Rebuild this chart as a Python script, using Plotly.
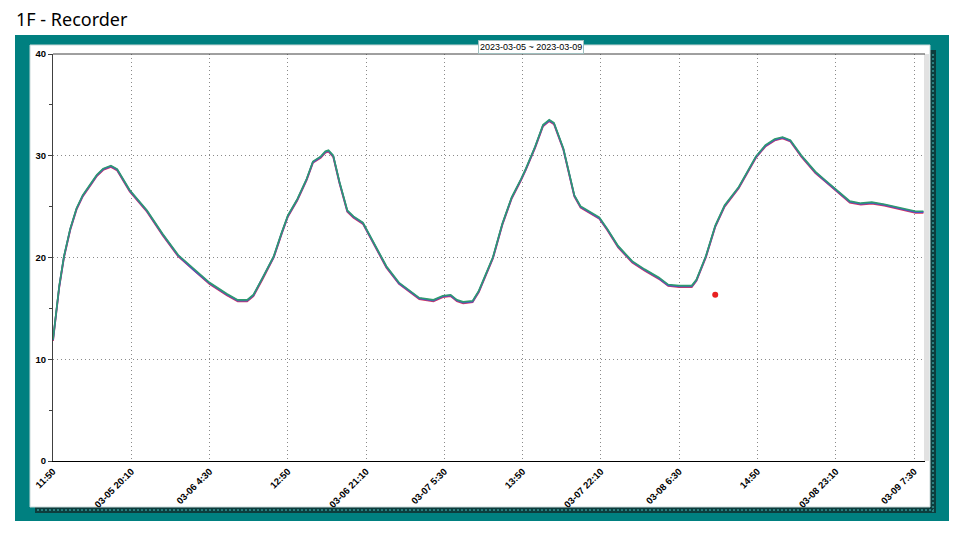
import plotly.graph_objects as go

# ---- data ----
times = [
    "2023-03-05 11:50", "2023-03-05 12:10", "2023-03-05 12:30", "2023-03-05 13:00",
    "2023-03-05 13:40", "2023-03-05 14:20", "2023-03-05 15:00", "2023-03-05 15:50",
    "2023-03-05 16:30", "2023-03-05 17:10", "2023-03-05 18:00", "2023-03-05 18:40",
    "2023-03-05 20:00", "2023-03-05 21:50", "2023-03-05 23:30", "2023-03-06 01:10",
    "2023-03-06 02:50", "2023-03-06 04:30", "2023-03-06 06:20", "2023-03-06 07:30",
    "2023-03-06 08:30", "2023-03-06 09:10", "2023-03-06 10:10", "2023-03-06 11:20",
    "2023-03-06 12:10", "2023-03-06 12:50", "2023-03-06 13:50", "2023-03-06 14:50",
    "2023-03-06 15:30", "2023-03-06 16:20", "2023-03-06 16:50", "2023-03-06 17:10",
    "2023-03-06 17:40", "2023-03-06 18:20", "2023-03-06 19:10", "2023-03-06 19:50",
    "2023-03-06 20:50", "2023-03-06 22:10", "2023-03-06 23:20", "2023-03-07 00:40",
    "2023-03-07 01:50", "2023-03-07 02:50", "2023-03-07 04:20", "2023-03-07 05:20",
    "2023-03-07 06:10", "2023-03-07 06:50", "2023-03-07 07:30", "2023-03-07 08:30",
    "2023-03-07 09:10", "2023-03-07 09:40", "2023-03-07 10:20", "2023-03-07 10:40",
    "2023-03-07 11:40", "2023-03-07 12:40", "2023-03-07 13:40", "2023-03-07 14:10",
    "2023-03-07 15:10", "2023-03-07 16:00", "2023-03-07 16:40", "2023-03-07 17:10",
    "2023-03-07 18:10", "2023-03-07 18:50", "2023-03-07 19:20", "2023-03-07 20:00",
    "2023-03-07 21:10", "2023-03-07 22:00", "2023-03-07 22:50", "2023-03-08 00:00",
    "2023-03-08 01:30", "2023-03-08 02:50", "2023-03-08 04:20", "2023-03-08 05:20",
    "2023-03-08 06:30", "2023-03-08 07:50", "2023-03-08 08:20", "2023-03-08 09:20",
    "2023-03-08 10:20", "2023-03-08 11:20", "2023-03-08 12:50", "2023-03-08 13:50",
    "2023-03-08 14:40", "2023-03-08 15:40", "2023-03-08 16:40", "2023-03-08 17:30",
    "2023-03-08 18:20", "2023-03-08 19:30", "2023-03-08 21:00", "2023-03-08 22:00",
    "2023-03-08 23:30", "2023-03-09 00:40", "2023-03-09 01:50", "2023-03-09 03:00",
    "2023-03-09 04:20", "2023-03-09 05:50", "2023-03-09 07:40", "2023-03-09 08:30",
]
temps = [
    11.8, 14.8, 17.1, 20.0,
    22.7, 24.7, 26.0, 27.1,
    28.0, 28.6, 28.9, 28.55,
    26.5, 24.5, 22.2, 20.1,
    18.7, 17.4, 16.3, 15.7,
    15.7, 16.2, 17.9, 20.0,
    22.3, 24.0, 25.6, 27.6,
    29.3, 29.8, 30.3, 30.4,
    29.9, 27.3, 24.5, 23.9,
    23.3, 21.0, 19.0, 17.4,
    16.6, 15.9, 15.7, 16.1,
    16.2, 15.7, 15.5, 15.6,
    16.6, 17.7, 19.3, 19.9,
    23.2, 25.8, 27.6, 28.6,
    30.8, 32.9, 33.4, 33.1,
    30.6, 28.0, 26.0, 24.9,
    24.3, 23.8, 22.7, 21.0,
    19.5, 18.7, 17.9, 17.2,
    17.1, 17.1, 17.7, 20.0,
    23.0, 25.0, 26.8, 28.4,
    29.8, 30.9, 31.5, 31.7,
    31.4, 29.9, 28.3, 27.5,
    26.3, 25.4, 25.2, 25.3,
    25.1, 24.8, 24.4, 24.4,
]
outlier_time = ["2023-03-08 10:20"]
outlier_temp = [16.2]

tick_vals = [
    "2023-03-05 11:50", "2023-03-05 20:10", "2023-03-06 04:30", "2023-03-06 12:50",
    "2023-03-06 21:10", "2023-03-07 05:30", "2023-03-07 13:50", "2023-03-07 22:10",
    "2023-03-08 06:30", "2023-03-08 14:50", "2023-03-08 23:10", "2023-03-09 07:30",
]
tick_text = [
    "11:50", "03-05 20:10", "03-06 4:30", "12:50",
    "03-06 21:10", "03-07 5:30", "13:50", "03-07 22:10",
    "03-08 6:30", "14:50", "03-08 23:10", "03-09 7:30",
]
x_range = ["2023-03-05 11:50", "2023-03-09 08:40"]
y_vals = [0, 10, 20, 30, 40]

# ---- geometry helpers (pixel -> paper) ----
W, H = 970, 537
L, R, T, B = 53, 925, 54, 461


def px(x):
    return (x - L) / (R - L)


def py(y):
    return (B - y) / (B - T)


fig = go.Figure()

# three overlaid sensor traces: red (base axis), blue and green on hidden
# overlaying axes whose ranges sit a hair lower, so green ends up on top edge
for color, width, axis in [("#d8365c", 1.8, "y"), ("#5050c8", 1.8, "y2"), ("#2e9a70", 1.6, "y3")]:
    fig.add_trace(go.Scatter(
        x=times, y=temps, mode="lines", yaxis=axis,
        line=dict(color=color, width=width),
        showlegend=False, hoverinfo="skip",
    ))

fig.add_trace(go.Scatter(
    x=outlier_time, y=outlier_temp, mode="markers", yaxis="y3",
    marker=dict(color="#e82020", size=6),
    showlegend=False,
))

shapes = [
    dict(type="rect", xref="paper", yref="paper",
         x0=px(15), x1=px(949), y0=py(521), y1=py(35),
         fillcolor="#008080", line=dict(width=0), layer="below"),
    dict(type="rect", xref="paper", yref="paper",
         x0=px(930), x1=px(936), y0=py(513), y1=py(50),
         fillcolor="#0d3d3d", line=dict(width=0), layer="below"),
    dict(type="rect", xref="paper", yref="paper",
         x0=px(35), x1=px(936), y0=py(513), y1=py(507),
         fillcolor="#0d3d3d", line=dict(width=0), layer="below"),
    dict(type="rect", xref="paper", yref="paper",
         x0=px(30), x1=px(930), y0=py(507), y1=py(45),
         fillcolor="#ffffff", line=dict(color="#c8d8d8", width=1), layer="below"),
    dict(type="rect", xref="paper", yref="paper",
         x0=px(924), x1=px(929), y0=py(461), y1=py(54),
         fillcolor="#e2e2e2", line=dict(width=0), layer="below"),
    dict(type="line", xref="paper", yref="paper",
         x0=0, x1=1, y0=1, y1=1,
         line=dict(color="#404040", width=1)),
    dict(type="line", xref="paper", yref="paper",
         x0=px(933), x1=px(933), y0=py(512), y1=py(52),
         line=dict(color="#2a8080", width=2, dash="2px,2px")),
    dict(type="line", xref="paper", yref="paper",
         x0=px(37), x1=px(934), y0=py(510), y1=py(510),
         line=dict(color="#2a8080", width=2, dash="2px,2px")),
]

tick_font = dict(family="Liberation Sans, Arial, sans-serif", size=9.5, color="#000000", weight="bold")

fig.update_layout(
    width=W, height=H,
    margin=dict(l=L, r=W - R, t=T, b=H - B, pad=0),
    paper_bgcolor="#ffffff",
    plot_bgcolor="rgba(0,0,0,0)",
    shapes=shapes,
    font=dict(family="Liberation Sans, Arial, sans-serif", size=10, color="#000000"),
    annotations=[
        dict(text="1F - Recorder", xref="paper", yref="paper",
             x=px(14), y=py(19), xanchor="left", yanchor="middle",
             showarrow=False,
             font=dict(family="Noto Sans, Open Sans, sans-serif", size=18, color="#000000")),
        dict(text="2023-03-05 ~ 2023-03-09", xref="paper", yref="paper",
             x=px(531), y=py(47), xanchor="center", yanchor="middle",
             showarrow=False, bgcolor="#ffffff", bordercolor="#9fbfbf",
             borderwidth=1, borderpad=1,
             font=dict(family="Liberation Sans, Arial, sans-serif", size=9, color="#000000")),
    ],
    yaxis2=dict(range=[-0.07, 39.93], overlaying="y", visible=False, fixedrange=True),
    yaxis3=dict(range=[-0.14, 39.86], overlaying="y", visible=False, fixedrange=True),
)

fig.update_xaxes(
    type="date", range=x_range,
    tickmode="array", tickvals=tick_vals, ticktext=tick_text,
    tickangle=-45, ticks="", tickfont=tick_font,
    showgrid=True, gridcolor="#8a8a8a", griddash="1px,3px", gridwidth=1,
    showline=True, linecolor="#000000", linewidth=1.3,
    zeroline=False, fixedrange=True,
)
fig.update_layout(yaxis=dict(
    range=[0, 40], tickmode="array", tickvals=y_vals,
    ticks="outside", ticklen=4, tickcolor="#404040",
    tickfont=tick_font,
    showgrid=True, gridcolor="#8a8a8a", griddash="1px,3px", gridwidth=1,
    showline=True, linecolor="#404040", linewidth=1,
    zeroline=False, fixedrange=True,
    minor=dict(dtick=5, tick0=0, ticks="outside", ticklen=3, tickcolor="#404040", showgrid=False),
))

fig.write_html(
    "out.html",
    config={"displayModeBar": False},
    post_script="document.body.style.margin='0';document.body.style.padding='0';",
)
